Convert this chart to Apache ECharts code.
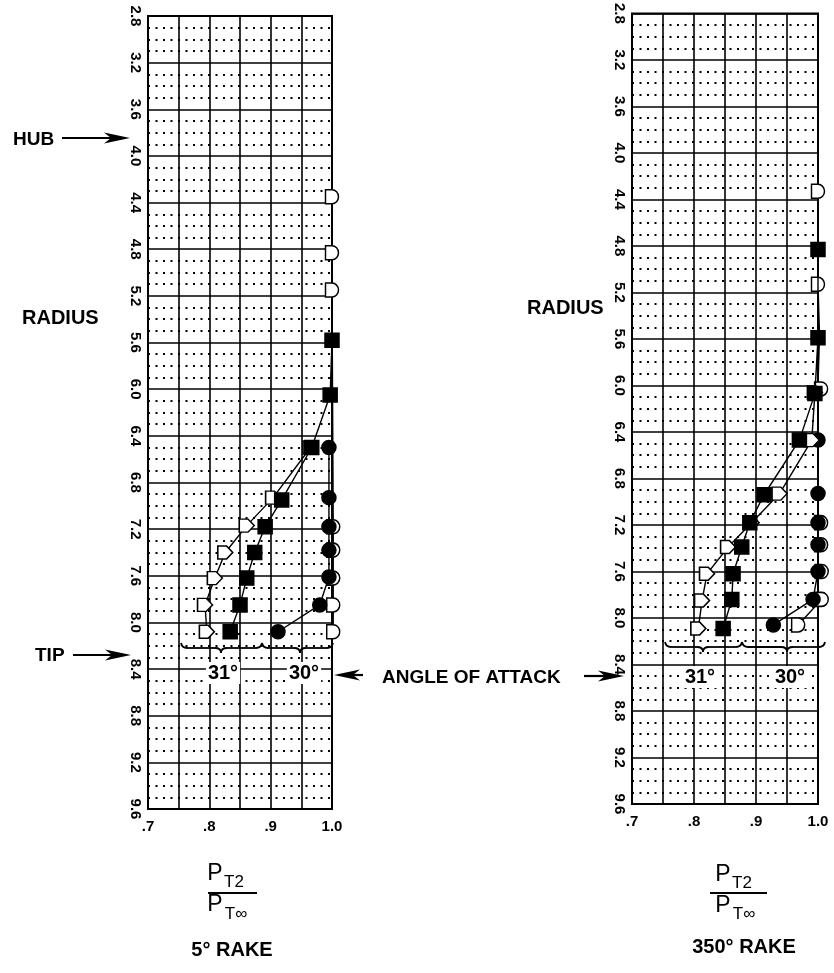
<!DOCTYPE html>
<html>
<head>
<meta charset="utf-8">
<title>PT2/PT-inf vs radius</title>
<script src="https://cdn.jsdelivr.net/npm/echarts@6/dist/echarts.min.js"></script>
<style>
  html, body { margin: 0; padding: 0; background: #fff; }
  #chart { width: 834px; height: 973px; }
</style>
</head>
<body>
<div id="chart"></div>
<script>
// x axis: pressure ratio, grid every .05, labels on tenths only
const ratioLabels = ['.7', '', '.8', '', '.9', '', '1.0'];
// y axis: radius, top to bottom
const radiusLabels = ['2.8', '3.2', '3.6', '4.0', '4.4', '4.8', '5.2', '5.6', '6.0',
    '6.4', '6.8', '7.2', '7.6', '8.0', '8.4', '8.8', '9.2', '9.6'];

// [PT2/PT-inf, radius]  --  5 deg rake
const rake5Flag31 = [[0.965, 6.50], [0.904, 6.93], [0.861, 7.17], [0.826, 7.40], [0.809, 7.62], [0.793, 7.85], [0.796, 8.08]];
const rake5Square31 = [[1.0, 5.58], [0.997, 6.05], [0.967, 6.50], [0.918, 6.95], [0.891, 7.18], [0.874, 7.40], [0.861, 7.62], [0.850, 7.85], [0.834, 8.08]];
const rake5Dot30 = [[0.995, 6.50], [0.995, 6.93], [0.995, 7.18], [0.995, 7.38], [0.995, 7.61], [0.980, 7.85], [0.912, 8.08]];
const rake5Half30 = [[1.0, 4.35], [1.0, 4.83], [1.0, 5.15], [1.002, 7.18], [1.002, 7.38], [1.002, 7.62], [1.002, 7.85], [1.002, 8.08]];

// 350 deg rake
const rake350Flag31 = [[0.995, 6.06], [0.990, 6.47], [0.938, 6.93], [0.893, 7.18], [0.855, 7.39], [0.821, 7.62], [0.813, 7.85], [0.807, 8.09]];
const rake350Square31 = [[1.0, 4.83], [1.0, 5.59], [0.995, 6.07], [0.970, 6.47], [0.913, 6.94], [0.890, 7.18], [0.877, 7.39], [0.863, 7.62], [0.861, 7.84], [0.847, 8.09]];
const rake350Dot30 = [[1.0, 6.47], [1.0, 6.93], [1.0, 7.18], [1.0, 7.37], [1.0, 7.60], [0.992, 7.84], [0.928, 8.06]];
const rake350Half30 = [[1.0, 4.33], [1.0, 5.13], [1.005, 6.03], [1.005, 7.18], [1.005, 7.37], [1.006, 7.60], [1.006, 7.84], [0.968, 8.06]];

const FONT = '"Liberation Sans", Arial, sans-serif';
const HALF_DISC = 'path://M0,0 L6,0 A6,6 0 0 1 6,12 L0,12 Z';
const FLAG = 'path://M0,0 L7,0 L12,6 L7,12 L0,12 Z';

let chart = echarts.init(document.getElementById('chart'), null, { renderer: 'canvas' });

function xAxisFor(i) {
    return {
        type: 'value', gridIndex: i, min: 0.7, max: 1.0, interval: 0.05,
        axisLine: { show: false }, axisTick: { show: false },
        axisLabel: {
            color: '#000', fontFamily: FONT, fontWeight: 'bold', fontSize: 15, margin: 10,
            formatter: v => ratioLabels[Math.round((v - 0.7) / 0.05)] || ''
        },
        splitLine: { show: true, lineStyle: { color: '#000', width: 1.6 } }
    };
}

function yAxisFor(i) {
    return {
        type: 'value', gridIndex: i, inverse: true, min: 2.8, max: 9.6, interval: 0.4,
        axisLine: { show: false }, axisTick: { show: false },
        axisLabel: {
            color: '#000', fontFamily: FONT, fontWeight: 'bold', fontSize: 15, margin: 5, rotate: -90,
            formatter: v => radiusLabels[Math.round((v - 2.8) / 0.4)] || ''
        },
        splitLine: { show: true, lineStyle: { color: '#000', width: 1.6 } },
        minorTick: { show: false, splitNumber: 4 },
        minorSplitLine: { show: true, lineStyle: { color: '#000', width: 2, type: [2, 5.5] } }
    };
}

function mk(name, data, i, symbol, filled, z) {
    return {
        name: name, type: 'line', xAxisIndex: i, yAxisIndex: i, data: data,
        symbol: symbol, symbolSize: symbol === FLAG ? [15, 13] : (symbol === HALF_DISC ? [13, 14] : 14),
        showSymbol: true, clip: false, z: z, animation: false,
        lineStyle: { color: '#000', width: 1.4 },
        itemStyle: { color: filled ? '#000' : '#fff', borderColor: '#000', borderWidth: 1.5, opacity: 1 },
        emphasis: { disabled: true }
    };
}

function txt(text, x, y, size, weight, align, bg) {
    let style = {
        text: text, x: x, y: y, fill: '#000',
        font: weight + ' ' + size + 'px ' + FONT,
        align: align, textAlign: align, verticalAlign: 'middle', textVerticalAlign: 'middle'
    };
    if (bg) { style.backgroundColor = '#fff'; style.padding = [1, 2]; }
    return { type: 'text', z: 100, style: style };
}

// arrow, head at x2
function arrow(x1, x2, y) {
    let d = x2 > x1 ? 1 : -1;
    return [
        { type: 'line', z: 100, shape: { x1: x1, y1: y, x2: x2 - d * 14, y2: y }, style: { stroke: '#000', lineWidth: 2.2 } },
        { type: 'polygon', z: 100, shape: { points: [[x2, y], [x2 - d * 26, y - 5.5], [x2 - d * 19, y], [x2 - d * 26, y + 5.5]] },
          style: { fill: '#000' } }
    ];
}

// horizontal curly brace, tip pointing down
function brace(xl, xr, xm, y, h) {
    let m = y + h / 2, r = 6;
    let st = { stroke: '#000', lineWidth: 1.8, fill: null };
    let q = (x1, y1, cx, cy, x2, y2) => ({ type: 'bezierCurve', z: 100,
        shape: { x1: x1, y1: y1, cpx1: cx, cpy1: cy, x2: x2, y2: y2 }, style: st });
    let l = (x1, x2) => ({ type: 'line', z: 100, shape: { x1: x1, y1: m, x2: x2, y2: m }, style: st });
    return [
        q(xl, y, xl + 1, m, xl + r, m), l(xl + r, xm - r), q(xm - r, m, xm, m, xm, y + h),
        q(xm, y + h, xm, m, xm + r, m), l(xm + r, xr - r), q(xr - r, m, xr - 1, m, xr, y)
    ];
}

let graphics = [].concat(
    [txt('HUB', 13, 140, 19, 'bold', 'left')], arrow(62, 130, 138),
    [txt('RADIUS', 22, 318, 20, 'bold', 'left')],
    [txt('TIP', 35, 656, 19, 'bold', 'left')], arrow(73, 131, 655),
    [txt('RADIUS', 527, 308, 20, 'bold', 'left')],
    arrow(363, 334, 675), [txt('ANGLE OF ATTACK', 382, 678, 19, 'bold', 'left')], arrow(584, 624, 676),
    brace(181, 262, 221, 643, 10), brace(262, 333, 300, 643, 10),
    brace(665, 742, 703, 642, 10), brace(742, 825, 787, 642, 10),
    [txt('31°', 223, 673, 20, 'bold', 'center', true), txt('30°', 304, 673, 20, 'bold', 'center', true),
     txt('31°', 700, 677, 20, 'bold', 'center', true), txt('30°', 790, 677, 20, 'bold', 'center', true)],
    // fraction labels
    [txt('P', 215, 874, 23, 'normal', 'center'), txt('T2', 234, 882, 17, 'normal', 'center'),
     { type: 'line', z: 100, shape: { x1: 208, y1: 893, x2: 257, y2: 893 }, style: { stroke: '#000', lineWidth: 1.8 } },
     txt('P', 215, 905, 23, 'normal', 'center'), txt('T\u221e', 236, 914, 17, 'normal', 'center'),
     txt('5° RAKE', 232, 950, 20, 'bold', 'center')],
    [txt('P', 723, 875, 23, 'normal', 'center'), txt('T2', 742, 883, 17, 'normal', 'center'),
     { type: 'line', z: 100, shape: { x1: 710, y1: 893, x2: 767, y2: 893 }, style: { stroke: '#000', lineWidth: 1.8 } },
     txt('P', 723, 906, 23, 'normal', 'center'), txt('T\u221e', 744, 914, 17, 'normal', 'center'),
     txt('350° RAKE', 744, 947, 20, 'bold', 'center')]
);

const option = {
    backgroundColor: '#fff',
    animation: false,
    grid: [
        { left: 148, top: 16, width: 184, height: 793, show: true, borderColor: '#000', borderWidth: 2, containLabel: false },
        { left: 632, top: 12, width: 186, height: 792, show: true, borderColor: '#000', borderWidth: 2, containLabel: false }
    ],
    xAxis: [xAxisFor(0), xAxisFor(1)],
    yAxis: [yAxisFor(0), yAxisFor(1)],
    series: [
        mk('30° open', rake5Half30, 0, HALF_DISC, false, 3),
        mk('30° solid', rake5Dot30, 0, 'circle', true, 4),
        mk('31° open', rake5Flag31, 0, FLAG, false, 5),
        mk('31° solid', rake5Square31, 0, 'rect', true, 6),
        mk('30° open', rake350Half30, 1, HALF_DISC, false, 3),
        mk('30° solid', rake350Dot30, 1, 'circle', true, 4),
        mk('31° open', rake350Flag31, 1, FLAG, false, 5),
        mk('31° solid', rake350Square31, 1, 'rect', true, 6)
    ],
    graphic: { elements: graphics }
};
chart.setOption(option);
</script>
</body>
</html>
